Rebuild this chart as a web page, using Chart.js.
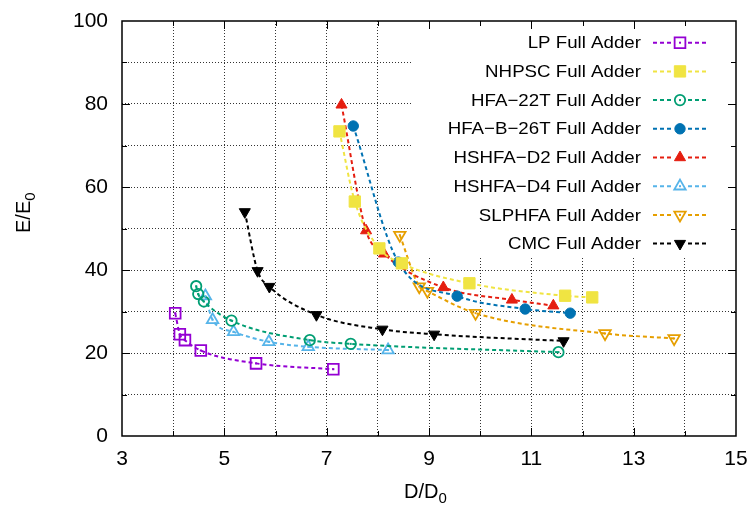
<!DOCTYPE html>
<html>
<head>
<meta charset="utf-8">
<title>E/E0 vs D/D0 - Full Adders</title>
<script src="https://cdn.jsdelivr.net/npm/chart.js@4"></script>
<style>
    * { margin: 0; padding: 0; box-sizing: border-box; }
    body { background: #fff; width: 750px; height: 506px; overflow: hidden; }
    .chart-container { position: relative; width: 750px; height: 506px; }
</style>
</head>
<body>
<div class="chart-container"><canvas id="chart"></canvas></div>
<script>
// Dados (D/D0 -> x, E/E0 -> y)
const seriesNames = ['LP Full Adder', 'NHPSC Full Adder', 'HFA\u221222T Full Adder', 'HFA\u2212B\u221226T Full Adder',
    'HSHFA\u2212D2 Full Adder', 'HSHFA\u2212D4 Full Adder', 'SLPHFA Full Adder', 'CMC Full Adder'];

const lpX = [4.04, 4.13, 4.23, 4.54, 5.62, 7.13];
const lpY = [29.6, 24.5, 23.1, 20.6, 17.5, 16.1];

const nhpscX = [7.25, 7.55, 8.03, 8.47, 9.79, 11.66, 12.19];
const nhpscY = [73.4, 56.5, 45.2, 41.6, 36.8, 33.8, 33.4];

const hfa22X = [4.45, 4.49, 4.60, 5.14, 6.67, 7.47, 11.53];
const hfa22Y = [36.1, 34.2, 32.4, 27.8, 23.1, 22.2, 20.2];

const hfaB26X = [7.52, 8.40, 9.55, 10.88, 11.76];
const hfaB26Y = [74.7, 41.9, 33.7, 30.6, 29.6];

const hshfaD2X = [7.29, 7.77, 8.12, 9.28, 10.62, 11.43];
const hshfaD2Y = [79.8, 49.5, 43.9, 35.8, 32.8, 31.4];

const hshfaD4X = [4.63, 4.77, 5.18, 5.87, 6.64, 8.20];
const hshfaD4Y = [33.7, 28.0, 25.1, 22.7, 21.5, 20.7];

const slphfaX = [8.43, 8.81, 8.97, 9.91, 12.44, 13.79];
const slphfaY = [48.4, 36.0, 34.9, 29.6, 24.7, 23.5];

const cmcX = [5.40, 5.65, 5.88, 6.80, 8.09, 9.10, 11.63];
const cmcY = [54.0, 39.8, 36.0, 29.2, 25.7, 24.5, 22.9];

const xTicks = [3, 5, 7, 9, 11, 13, 15];
const yTicks = [0, 20, 40, 60, 80, 100];

const FONT = '"Liberation Sans", Arial, sans-serif';

// estilo de cada série: cor, marcador, aberto/cheio
const styles = [
    { color: '#9400d3', shape: 'rect', rot: 0, open: true, r: 7.6 },
    { color: '#f0e442', shape: 'rect', rot: 0, open: false, r: 8.0 },
    { color: '#009e73', shape: 'circle', rot: 0, open: true, r: 5.2 },
    { color: '#0072b2', shape: 'circle', rot: 0, open: false, r: 5.2 },
    { color: '#e51e10', shape: 'triangle', rot: 0, open: false, r: 6.4 },
    { color: '#56b4e9', shape: 'triangle', rot: 0, open: true, r: 6.6 },
    { color: '#e69f00', shape: 'triangle', rot: 180, open: true, r: 6.6 },
    { color: '#000000', shape: 'triangle', rot: 180, open: false, r: 6.4 }
];

const xs = [lpX, nhpscX, hfa22X, hfaB26X, hshfaD2X, hshfaD4X, slphfaX, cmcX];
const ys = [lpY, nhpscY, hfa22Y, hfaB26Y, hshfaD2Y, hshfaD4Y, slphfaY, cmcY];

const datasets = seriesNames.map((name, i) => {
    const s = styles[i];
    return {
        label: name,
        data: xs[i].map((x, k) => ({ x: x, y: ys[i][k] })),
        borderColor: s.color,
        backgroundColor: s.open ? 'rgba(0,0,0,0)' : s.color,
        borderWidth: 2,
        borderDash: [4, 3],
        cubicInterpolationMode: 'monotone',
        pointStyle: s.shape,
        pointRotation: s.rot,
        pointRadius: s.r,
        pointBorderWidth: s.open ? 1.8 : 1,
        pointBorderColor: s.color,
        pointBackgroundColor: s.open ? 'rgba(0,0,0,0)' : s.color,
        showLine: true
    };
});

// caixa da legenda (opaca) + legenda + moldura
const LEG = { left: 412, bottom: 258, textRight: 641, lineL: 653, lineR: 707, mark: 680, y0: 42.7, dy: 28.7 };

const framePlugin = {
    id: 'frame',
    beforeDatasetsDraw(chart) {
        const a = chart.chartArea, ctx = chart.ctx;
        ctx.save();
        ctx.fillStyle = '#fff';
        ctx.fillRect(LEG.left, a.top, a.right - LEG.left, LEG.bottom - a.top);
        ctx.restore();
    },
    afterDatasetsDraw(chart) {
        const a = chart.chartArea, ctx = chart.ctx;
        ctx.save();

        // pontinho central nos marcadores abertos
        chart.data.datasets.forEach((ds, i) => {
            if (!styles[i].open) return;
            ctx.fillStyle = styles[i].color;
            chart.getDatasetMeta(i).data.forEach(p => {
                ctx.fillRect(p.x - 1, p.y - 1, 2, 2);
            });
        });

        // legenda
        seriesNames.forEach((name, i) => {
            const s = styles[i];
            const y = LEG.y0 + i * LEG.dy;
            ctx.save();
            ctx.translate(LEG.textRight, y);
            ctx.scale(1.1, 1);
            ctx.font = '17px ' + FONT;
            ctx.fillStyle = '#000';
            ctx.textAlign = 'right';
            ctx.textBaseline = 'middle';
            ctx.fillText(name, 0, 1);
            ctx.restore();

            ctx.strokeStyle = s.color;
            ctx.lineWidth = 2;
            ctx.setLineDash([4, 3]);
            ctx.beginPath();
            ctx.moveTo(LEG.lineL, y);
            ctx.lineTo(LEG.lineR, y);
            ctx.stroke();
            ctx.setLineDash([]);

            // apaga o tracejado atrás do marcador
            ctx.fillStyle = '#fff';
            ctx.fillRect(LEG.mark - 6, y - 6, 12, 12);

            ctx.fillStyle = s.open ? 'rgba(0,0,0,0)' : s.color;
            ctx.lineWidth = s.open ? 1.8 : 1;
            Chart.helpers.drawPoint(ctx, {
                pointStyle: s.shape, rotation: s.rot, radius: s.r, borderWidth: ctx.lineWidth
            }, LEG.mark, y);
            if (s.open) {
                ctx.fillStyle = s.color;
                ctx.fillRect(LEG.mark - 1, y - 1, 2, 2);
            }
        });

        // moldura e marcas internas
        ctx.strokeStyle = '#000';
        ctx.lineWidth = 1.5;
        ctx.strokeRect(a.left, a.top, a.right - a.left, a.bottom - a.top);
        ctx.lineWidth = 1;
        const xs_ = chart.scales.x, ys_ = chart.scales.y;
        for (let v = 4; v < 15; v++) {
            const px = Math.round(xs_.getPixelForValue(v)) + 0.5;
            const len = (v % 2 === 1) ? 8 : 5;
            ctx.beginPath();
            ctx.moveTo(px, a.bottom); ctx.lineTo(px, a.bottom - len);
            ctx.moveTo(px, a.top); ctx.lineTo(px, a.top + len);
            ctx.stroke();
        }
        for (let v = 10; v < 100; v += 10) {
            const py = Math.round(ys_.getPixelForValue(v)) + 0.5;
            const len = (v % 20 === 0) ? 8 : 5;
            ctx.beginPath();
            ctx.moveTo(a.left, py); ctx.lineTo(a.left + len, py);
            ctx.moveTo(a.right, py); ctx.lineTo(a.right - len, py);
            ctx.stroke();
        }

        // títulos dos eixos com subscrito
        ctx.fillStyle = '#000';
        ctx.textBaseline = 'alphabetic';
        ctx.textAlign = 'left';
        ctx.font = '20px ' + FONT;
        const t1 = 'D/D';
        const w1 = ctx.measureText(t1).width;
        ctx.fillText(t1, 404, 498);
        ctx.font = '15px ' + FONT;
        ctx.fillText('0', 404 + w1, 503);

        ctx.save();
        ctx.translate(30, 233);
        ctx.rotate(-Math.PI / 2);
        ctx.font = '20px ' + FONT;
        const t2 = 'E/E';
        const w2 = ctx.measureText(t2).width;
        ctx.fillText(t2, 0, 0);
        ctx.font = '15px ' + FONT;
        ctx.fillText('0', w2, 5);
        ctx.restore();

        ctx.restore();
    }
};

const gridColor = (edge) => (c) => (edge.includes(c.tick.value) ? 'rgba(0,0,0,0)' : '#333');

const config = {
    type: 'scatter',
    data: { datasets: datasets },
    options: {
        responsive: false,
        animation: false,
        events: [],
        layout: { padding: { left: 0, right: 14, top: 21, bottom: 0 } },
        plugins: { legend: { display: false }, tooltip: { enabled: false } },
        scales: {
            x: {
                type: 'linear',
                min: 3, max: 15,
                afterFit: s => { s.height = 70; s.paddingLeft = 0; s.paddingRight = 0; },
                ticks: {
                    stepSize: 1, autoSkip: false, maxRotation: 0, padding: 11,
                    color: '#000', font: { family: FONT, size: 21 },
                    callback: v => (xTicks.includes(v) ? v : '')
                },
                grid: { color: gridColor([3, 15]), lineWidth: 1, drawTicks: false },
                border: { display: false, dash: [1, 2] }
            },
            y: {
                type: 'linear',
                min: 0, max: 100,
                afterFit: s => { s.width = 122; s.paddingTop = 0; s.paddingBottom = 0; },
                ticks: {
                    stepSize: 10, autoSkip: false, padding: 14,
                    color: '#000', font: { family: FONT, size: 21 },
                    callback: v => (yTicks.includes(v) ? v : '')
                },
                grid: { color: gridColor([0, 100]), lineWidth: 1, drawTicks: false },
                border: { display: false, dash: [1, 2] }
            }
        }
    },
    plugins: [framePlugin]
};

const canvas = document.getElementById('chart');
canvas.width = 750;
canvas.height = 506;
const chart = new Chart(canvas.getContext('2d'), config);
</script>
</body>
</html>
